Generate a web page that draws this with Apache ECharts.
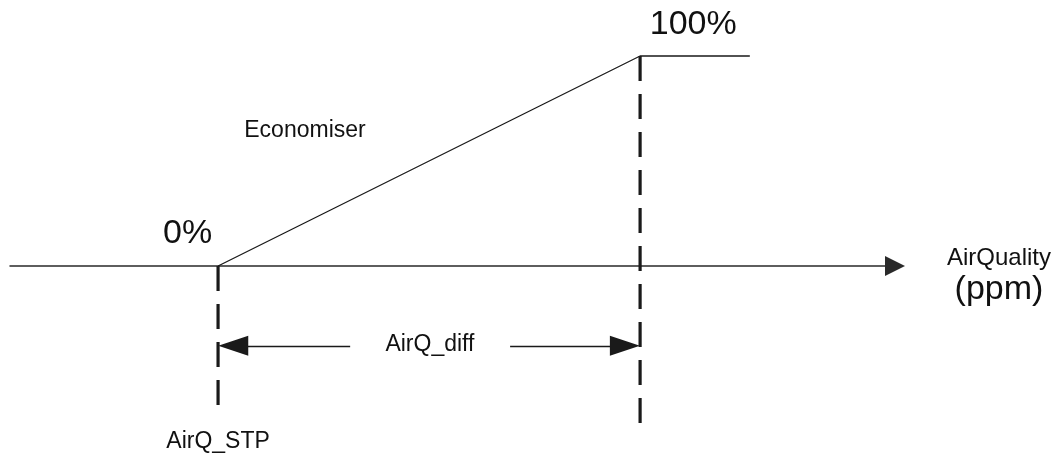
<!DOCTYPE html>
<html>
<head>
<meta charset="utf-8">
<script src="https://cdn.jsdelivr.net/npm/echarts@6/dist/echarts.min.js"></script>
<style>
  html, body { margin: 0; padding: 0; background: #fff; }
  #chart { width: 1062px; height: 459px; }
</style>
</head>
<body>
<div id="chart"></div>
<script>
// ramp: air quality (relative to setpoint) vs economiser opening
const rampX = [0, 100, 126];
const rampPct = [0, 100, 100];
const stpLine = [[0, 0], [0, -69]];
const diffLine = [[100, 100], [100, -76]];
const dimY = -38;
const dimSegments = [[3.6, 31.3], [69.2, 96.4]];
// text notes: [x, y, text]
const notes = [
  [-7.2, 15.2, '0%'],
  [112.6, 115, '100%'],
  [20.6, 64.3, 'Economiser'],
  [50.2, -37.4, 'AirQ_diff'],
  [0, -83.5, 'AirQ_STP']
];
const bigNotes = ['0%', '100%'];

document.addEventListener('DOMContentLoaded', function() {
  const el = document.getElementById('chart');
  const chart = echarts.init(el);
  const ink = '#1a1a1a';
  const txt = '#111';
  const geo = 'Liberation Sans';

  const option = {
    animation: false,
    grid: { left: 10, right: 167, top: 14, bottom: 4 },
    xAxis: {
      type: 'value', min: -49.3, max: 160.4,
      axisLine: {
        show: true, onZero: true,
        symbol: ['none', 'triangle'], symbolSize: [20, 20],
        lineStyle: { color: '#2a2a2a', width: 1.5 }
      },
      axisTick: { show: false }, axisLabel: { show: false }, splitLine: { show: false },
      name: '{a|AirQuality}\n{b|(ppm)}',
      nameLocation: 'end',
      nameGap: 52,
      nameTextStyle: {
        padding: [20, 0, 0, 0],
        rich: {
          a: { fontFamily: geo, fontSize: 24, color: txt, lineHeight: 28, align: 'center' },
          b: { fontFamily: geo, fontSize: 34, color: txt, lineHeight: 36, align: 'center' }
        }
      }
    },
    yAxis: {
      type: 'value', min: -90, max: 120,
      axisLine: { show: false }, axisTick: { show: false },
      axisLabel: { show: false }, splitLine: { show: false }
    },
    series: [
      {
        type: 'line',
        data: rampX.map((x, i) => [x, rampPct[i]]),
        symbol: 'none',
        lineStyle: { color: ink, width: 1.3 },
        markLine: {
          silent: true,
          label: { show: false },
          lineStyle: { color: ink, width: 1.3, type: 'solid' },
          data: [
            [{ coord: [dimSegments[0][0], dimY], symbol: 'triangle', symbolSize: [20, 30] },
             { coord: [dimSegments[0][1], dimY], symbol: 'none' }],
            [{ coord: [dimSegments[1][0], dimY], symbol: 'none' },
             { coord: [dimSegments[1][1], dimY], symbol: 'triangle', symbolSize: [20, 30] }]
          ]
        }
      },
      {
        type: 'line', data: stpLine, symbol: 'none',
        lineStyle: { color: ink, width: 3.2, type: [25, 13], cap: 'butt' }
      },
      {
        type: 'line', data: diffLine, symbol: 'none',
        lineStyle: { color: ink, width: 3.2, type: [25, 13], cap: 'butt' }
      },
      {
        type: 'scatter', symbolSize: 0, clip: false, silent: true,
        itemStyle: { opacity: 1 },
        data: notes.map(n => ({
          value: [n[0], n[1]],
          name: n[2],
          label: {
            show: true, position: 'inside', formatter: n[2],
            fontFamily: geo, opacity: 1,
            fontSize: bigNotes.includes(n[2]) ? 34 : 23,
            color: txt
          }
        }))
      }
    ]
  };
  chart.setOption(option);
});
</script>
</body>
</html>
